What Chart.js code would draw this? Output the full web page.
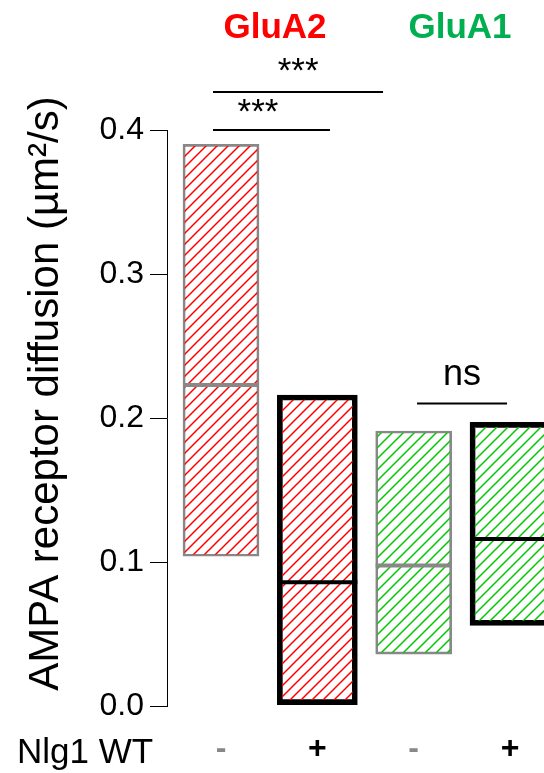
<!DOCTYPE html>
<html><head><meta charset="utf-8">
<script src="https://cdn.jsdelivr.net/npm/chart.js@4/dist/chart.umd.min.js"></script>
<style>
html,body{margin:0;padding:0;background:#fff;overflow:hidden;}
#wrap{position:relative;width:600px;height:773px;}
</style></head><body>
<div id="wrap"><canvas id="c" width="600" height="773"></canvas></div>
<script>
// ---- data ----
const conditions = ['GluA2 -', 'GluA2 +', 'GluA1 -', 'GluA1 +'];
const nlg1Signs = ['-', '+', '-', '+'];
const subunitOf = ['GluA2', 'GluA2', 'GluA1', 'GluA1'];
const subunits = ['GluA2', 'GluA1'];
const boxMin = [0.104, 0.001, 0.036, 0.056];
const boxMax = [0.390, 0.216, 0.191, 0.197];
const boxMedian = [0.223, 0.086, 0.0975, 0.116];
const yTicks = [0, 0.1, 0.2, 0.3, 0.4];
const sigLabels = ['***', '***', 'ns'];
const yTitle = 'AMPA receptor diffusion (\u00b5m\u00b2/s)';
const xRowLabel = 'Nlg1 WT';

// ---- styles ----
const FONT = '"Liberation Sans", Arial, Helvetica, sans-serif';
const hatchColor = {GluA2: '#ff0000', GluA1: '#00c800'};
const titleColor = {GluA2: '#ff0000', GluA1: '#00b050'};
const GREY = '#888888';
const X_MIN = 0.4394, X_MAX = 4.934;

function hatch(color) {
  const s = 11;
  const c = document.createElement('canvas');
  c.width = s; c.height = s;
  const g = c.getContext('2d');
  g.strokeStyle = color; g.lineWidth = 1.5;
  g.beginPath();
  g.moveTo(-1, s + 1); g.lineTo(s + 1, -1);
  g.moveTo(-2, 2); g.lineTo(2, -2);
  g.moveTo(s - 2, s + 2); g.lineTo(s + 2, s - 2);
  g.stroke();
  return g.createPattern(c, 'repeat');
}
const patterns = {GluA2: hatch(hatchColor.GluA2), GluA1: hatch(hatchColor.GluA1)};

const idx = conditions.map((_, i) => i);
const minusIdx = idx.filter(i => nlg1Signs[i] === '-');
const plusIdx = idx.filter(i => nlg1Signs[i] === '+');

function barSet(list, border, bw, thick) {
  return {
    type: 'bar',
    order: 2,
    data: list.map(i => ({x: i + 1, y: [boxMin[i], boxMax[i]]})),
    backgroundColor: list.map(i => patterns[subunitOf[i]]),
    borderColor: border,
    borderWidth: bw,
    borderSkipped: false,
    barThickness: thick,
    grouped: false
  };
}

const medianSet = {
  type: 'scatter',
  order: 1,
  data: idx.map(i => ({x: i + 1, y: boxMedian[i]})),
  pointStyle: 'line',
  pointRadius: idx.map(i => nlg1Signs[i] === '+' ? 40 : 38),
  pointBorderColor: idx.map(i => nlg1Signs[i] === '+' ? '#000' : GREY),
  pointBorderWidth: 4,
  pointHoverRadius: 0
};

const annot = {
  id: 'annot',
  afterDraw(chart) {
    const {ctx, scales: {x, y}} = chart;
    ctx.save();
    // headers
    ctx.textAlign = 'center';
    ctx.textBaseline = 'alphabetic';
    ctx.font = 'bold 35px ' + FONT;
    const headerX = [1.561, 3.481];
    subunits.forEach((s, k) => {
      ctx.fillStyle = titleColor[s];
      ctx.fillText(s, x.getPixelForValue(headerX[k]), 38);
    });
    // significance bars
    const sig = [
      {x1: 0.917, x2: 2.131, yv: 0.4, tx: 1.384, off: 7, size: 35},
      {x1: 0.917, x2: 2.682, yv: 0.4264, tx: 1.80, off: 10, size: 35},
      {x1: 3.035, x2: 3.969, yv: 0.21, tx: 3.502, off: 19, size: 36}
    ];
    ctx.strokeStyle = '#000';
    ctx.fillStyle = '#000';
    ctx.lineWidth = 2;
    sig.forEach((s, k) => {
      const py = y.getPixelForValue(s.yv);
      ctx.beginPath();
      ctx.moveTo(x.getPixelForValue(s.x1), py);
      ctx.lineTo(x.getPixelForValue(s.x2), py);
      ctx.stroke();
      ctx.font = s.size + 'px ' + FONT;
      ctx.fillText(sigLabels[k], x.getPixelForValue(s.tx), py - s.off);
    });
    // row label
    ctx.textAlign = 'left';
    ctx.font = '35px ' + FONT;
    ctx.fillText(xRowLabel, 17, chart.chartArea.bottom + 57);
    // y title
    ctx.translate(46.5, (y.top + y.bottom) / 2 - 24.5);
    ctx.rotate(-Math.PI / 2);
    ctx.textAlign = 'center';
    ctx.textBaseline = 'middle';
    ctx.font = '42px ' + FONT;
    ctx.fillText(yTitle, 0, 0);
    ctx.restore();
  }
};

new Chart(document.getElementById('c'), {
  data: {
    datasets: [
      medianSet,
      barSet(minusIdx, GREY, 2, 76),
      barSet(plusIdx, '#000', 5, 80)
    ]
  },
  options: {
    responsive: false,
    animation: false,
    events: [],
    layout: {autoPadding: false, padding: {top: 130, left: 0, right: 0, bottom: 0}},
    plugins: {legend: {display: false}, tooltip: {enabled: false}},
    scales: {
      x: {
        type: 'linear',
        offset: false,
        bounds: 'data',
        min: X_MIN, max: X_MAX,
        afterBuildTicks: s => { s.ticks = conditions.map((_, i) => ({value: i + 1})); },
        afterFit: s => { s.height = 67; s.paddingLeft = 0; s.paddingRight = 0; },
        grid: {display: false, drawTicks: false, offset: false},
        border: {display: false},
        ticks: {
          autoSkip: false, maxRotation: 0, padding: 24,
          font: {family: FONT, size: 32, weight: 'bold'},
          color: c => nlg1Signs[c.index] === '+' ? '#000' : GREY,
          callback: (v, i) => nlg1Signs[i]
        }
      },
      y: {
        type: 'linear',
        min: 0, max: 0.4,
        afterBuildTicks: s => { s.ticks = yTicks.map(v => ({value: v})); },
        afterFit: s => { s.width = 167; s.paddingTop = 0; s.paddingBottom = 0; },
        grid: {drawOnChartArea: false, drawTicks: true, tickLength: 17, color: '#000', lineWidth: 1},
        border: {display: true, color: '#000', width: 1},
        ticks: {padding: 6, color: '#000', font: {family: FONT, size: 32}, callback: v => v.toFixed(1)}
      }
    }
  },
  plugins: [annot]
});
</script>
</body></html>
